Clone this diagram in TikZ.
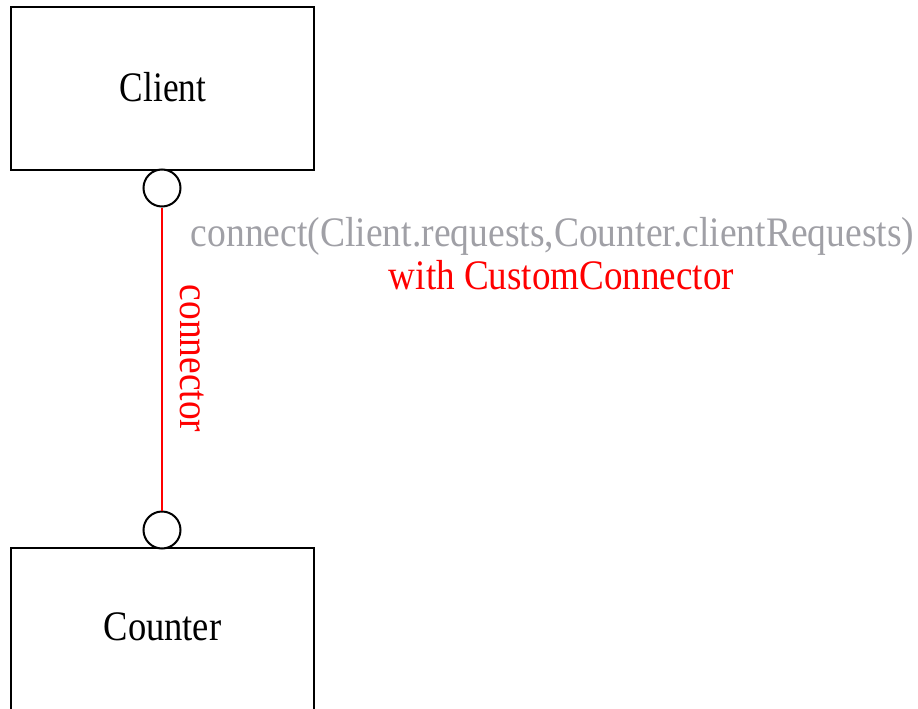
\documentclass[tikz,border=0pt]{standalone}
\usepackage{fontspec}
\setmainfont{Liberation Serif}
\definecolor{lblgray}{RGB}{160,160,166}
\definecolor{conred}{RGB}{255,0,0}
\begin{document}
\begin{tikzpicture}[x=1pt,y=-1pt,
  compbox/.style={draw=black, line width=2pt, minimum width=303pt, minimum height=163pt, inner sep=0pt},
  port/.style={draw=black, fill=white, line width=2pt, circle, minimum size=37pt, inner sep=0pt},
  bigtext/.style={font=\fontsize{42}{48}\selectfont, inner sep=0pt},
  conn/.style={draw=conred, line width=2pt}]
\useasboundingbox (0,0) rectangle (918,709);
\clip (0,0) rectangle (918,709);
\node[compbox] (client) at (162.5,88.5) {};
\node[compbox] (counter) at (162.5,629.5) {};
\node[bigtext, anchor=base] (clientlbl) at (163,101) {\scalebox{0.84}[1]{Client}};
\node[bigtext, anchor=base] (counterlbl) at (162.5,640) {\scalebox{0.87}[1]{Counter}};
\node[port] (p1) at (162,188) {};
\node[port] (p2) at (162,530) {};
\draw[conn] (p1.south) -- (p2.north);
\node[bigtext, text=conred, rotate=-90] (connlbl) at (192,358.5) {\scalebox{0.89}[1]{connector}};
\node[bigtext, text=lblgray, anchor=base] (stmt) at (552.5,246) {\scalebox{0.895}[1]{connect(Client.requests,Counter.clientRequests)}};
\node[bigtext, text=conred, anchor=base] (withlbl) at (561.5,289) {\scalebox{0.883}[1]{with CustomConnector}};
\end{tikzpicture}
\end{document}
